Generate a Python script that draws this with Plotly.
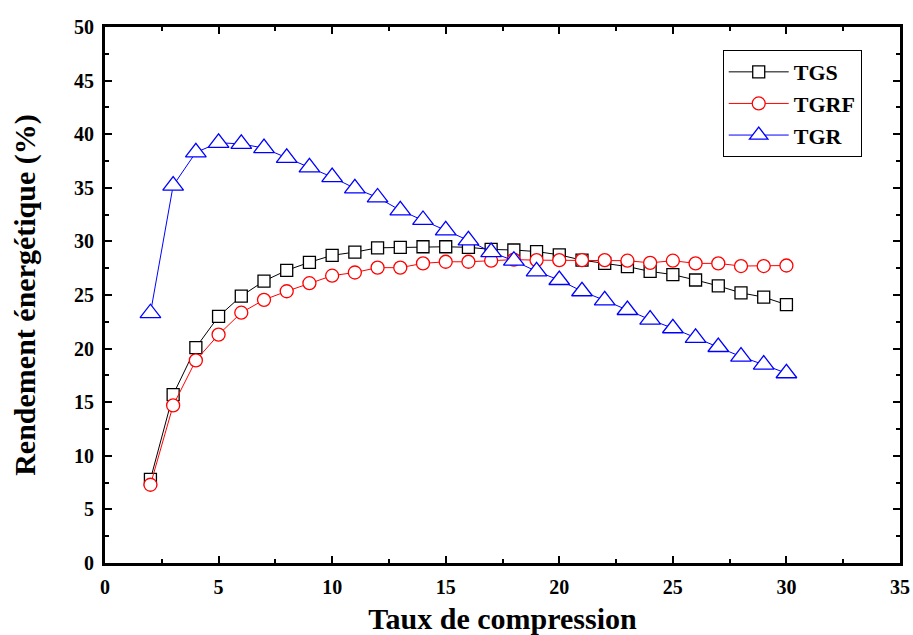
import plotly.graph_objects as go

# Taux de compression
taux = list(range(2, 31))

# Rendement énergétique (%) pour chaque cycle
tgs = [7.8, 15.7, 20.1, 23.0, 24.9, 26.3, 27.3, 28.05, 28.7, 29.0, 29.4, 29.45, 29.5,
       29.5, 29.45, 29.25, 29.2, 29.05, 28.75, 28.25, 27.95, 27.65, 27.2, 26.9, 26.4,
       25.85, 25.2, 24.8, 24.1]
tgrf = [7.3, 14.7, 18.9, 21.3, 23.35, 24.55, 25.35, 26.1, 26.8, 27.1, 27.55, 27.55, 27.95,
        28.1, 28.1, 28.2, 28.3, 28.25, 28.25, 28.25, 28.25, 28.2, 28.0, 28.2, 27.95,
        27.95, 27.7, 27.7, 27.75]
tgr = [23.3, 35.2, 38.3, 39.2, 39.1, 38.7, 37.8, 36.9, 36.0, 34.95, 34.1, 32.9, 32.0,
       31.03, 30.1, 29.0, 28.2, 27.2, 26.4, 25.35, 24.5, 23.6, 22.7, 21.9, 21.0,
       20.15, 19.25, 18.5, 17.7]

SERIF = "Liberation Serif"

series = [
    ("TGS", tgs, "black", "square", 12),
    ("TGRF", tgrf, "red", "circle", 13),
    ("TGR", tgr, "blue", "triangle-up", 18),
]

fig = go.Figure()
for name, vals, color, symbol, size in series:
    fig.add_trace(go.Scatter(
        x=taux, y=vals, name=name, mode="lines+markers",
        line=dict(color=color, width=1),
        marker=dict(symbol=symbol, size=size, color="white",
                    line=dict(color=color, width=1.3)),
    ))

axis_common = dict(
    showline=True, linecolor="black", linewidth=3, mirror="ticks",
    ticks="inside", ticklen=7, tickwidth=2, tickcolor="black",
    showgrid=False, zeroline=False, automargin=False,
    ticklabelstandoff=4,
    tickfont=dict(family=SERIF, size=20, color="black", weight="bold"),
)
minor_ticks = dict(ticks="inside", ticklen=4, tickwidth=2, dtick=2.5, tickcolor="black")
title_font = dict(family=SERIF, size=30, color="black", weight="bold")

fig.update_xaxes(
    range=[0, 35], dtick=5, tick0=0, minor=minor_ticks,
    title=dict(text="Taux de compression", standoff=12, font=title_font),
    **axis_common,
)
fig.update_yaxes(
    range=[0, 50], dtick=5, tick0=0, minor=minor_ticks,
    title=dict(text="Rendement énergétique (%)", standoff=30, font=title_font),
    **axis_common,
)

fig.update_layout(
    width=913, height=635,
    margin=dict(l=105, r=13, t=27, b=72),
    plot_bgcolor="white", paper_bgcolor="white",
    showlegend=True,
    legend=dict(
        x=0.777, y=0.957, xanchor="left", yanchor="top",
        bordercolor="black", borderwidth=1, bgcolor="white",
        font=dict(family=SERIF, size=22, color="black", weight="bold"),
        tracegroupgap=0, itemwidth=60,
    ),
)

fig.write_html("out.html")
